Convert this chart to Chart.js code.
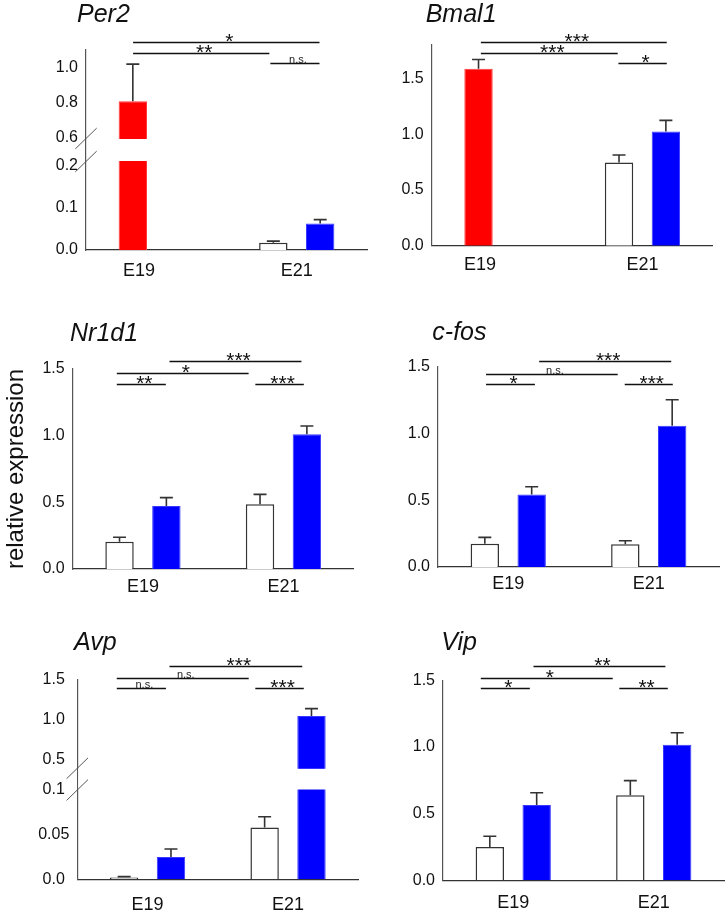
<!DOCTYPE html>
<html>
<head>
<meta charset="utf-8">
<script src="https://cdn.jsdelivr.net/npm/chart.js@4.4.1/dist/chart.umd.min.js"></script>
<style>
  html, body { margin: 0; padding: 0; background: #ffffff; }
  #wrap { position: relative; width: 727px; height: 913px; overflow: hidden; background: #fff; }
  #wrap canvas { position: absolute; left: 0; top: 0; }
</style>
</head>
<body>
<div id="wrap">
  <canvas id="c0" width="727" height="913"></canvas>
  <canvas id="c1" width="727" height="913"></canvas>
  <canvas id="c2" width="727" height="913"></canvas>
  <canvas id="c3" width="727" height="913"></canvas>
  <canvas id="c4" width="727" height="913"></canvas>
  <canvas id="c5" width="727" height="913"></canvas>
</div>
<script>
// ---------------- DATA ----------------
const groups = ['E19', 'E21'];

// Per2 (broken axis)
const per2Red = [0.807, null];
const per2RedSem = [0.212, null];
const per2White = [null, 0.017];
const per2WhiteSem = [null, 0.004];
const per2Blue = [null, 0.063];
const per2BlueSem = [null, 0.009];
const per2Ticks = [0, 0.1, 0.2, 0.6, 0.8, 1.0];
const per2Sig = ['*', '**', 'n.s.'];

// Bmal1
const bmal1Red = [1.586, null];
const bmal1RedSem = [0.084, null];
const bmal1White = [null, 0.746];
const bmal1WhiteSem = [null, 0.067];
const bmal1Blue = [null, 1.025];
const bmal1BlueSem = [null, 0.099];
const bmal1Ticks = [0, 0.5, 1.0, 1.5];
const bmal1Sig = ['***', '***', '*'];

// Nr1d1
const nr1d1White = [0.205, 0.485];
const nr1d1WhiteSem = [0.033, 0.075];
const nr1d1Blue = [0.4725, 1.01];
const nr1d1BlueSem = [0.0625, 0.063];
const nr1d1Sig = ['***', '*', '**', '***'];

// c-fos
const cfosWhite = [0.175, 0.17];
const cfosWhiteSem = [0.047, 0.027];
const cfosBlue = [0.542, 1.058];
const cfosBlueSem = [0.059, 0.195];
const cfosSig = ['***', 'n.s.', '*', '***'];

// Avp (broken axis)
const avpWhite = [0.002, 0.058];
const avpWhiteSem = [0.001, 0.012];
const avpBlue = [0.025, 1.045];
const avpBlueSem = [0.009, 0.094];
const avpTicks = [0, 0.05, 0.1, 0.5, 1.0, 1.5];
const avpSig = ['***', 'n.s.', 'n.s.', '***'];

// Vip
const vipWhite = [0.25, 0.6375];
const vipWhiteSem = [0.08, 0.11];
const vipBlue = [0.565, 1.017];
const vipBlueSem = [0.092, 0.09];
const vipSig = ['**', '*', '*', '**'];

const stdTicks = [0, 0.5, 1.0, 1.5];
const yAxisTitle = 'relative expression';

// ---------------- STYLE / LAYOUT ----------------
const FONT = "'Liberation Sans', Arial, Helvetica, sans-serif";
Chart.defaults.font.family = FONT;
Chart.defaults.color = '#111';

const RED = '#ff0000', BLUE = '#0000ff', WHITE = '#ffffff';

class BrokenScale extends Chart.LinearScale {
  static id = 'broken';
  _brk() {
    const b = this.options.brk;
    const H = this.bottom - this.top;
    const lowH = H * b.lowFrac, gapH = H * b.gapFrac, highH = H - lowH - gapH;
    return { b, lowH, gapH, highH };
  }
  getPixelForValue(v) {
    if (v === null || v === undefined || isNaN(v)) return NaN;
    const { b, lowH, gapH, highH } = this._brk();
    const y0 = this.bottom;
    if (v <= b.lowMax) return y0 - (v - this.min) / (b.lowMax - this.min) * lowH;
    if (v >= b.highMin) return y0 - lowH - gapH - (v - b.highMin) / (this.max - b.highMin) * highH;
    return y0 - lowH - (v - b.lowMax) / (b.highMin - b.lowMax) * gapH;
  }
  getValueForPixel(p) {
    const { b, lowH, gapH, highH } = this._brk();
    const d = this.bottom - p;
    if (d <= lowH) return this.min + d / lowH * (b.lowMax - this.min);
    if (d >= lowH + gapH) return b.highMin + (d - lowH - gapH) / highH * (this.max - b.highMin);
    return b.lowMax + (d - lowH) / gapH * (b.highMin - b.lowMax);
  }
  gapPixels() {
    const { lowH, gapH } = this._brk();
    return [this.bottom - lowH - gapH, this.bottom - lowH];
  }
}
Chart.register(BrokenScale);

function barDs(data, sem, color, stack) {
  const ds = {
    data: data, sem: sem,
    backgroundColor: color,
    borderColor: color === WHITE ? '#333' : (color === BLUE ? '#3a3aff' : '#ff3a3a'),
    borderWidth: color === WHITE ? 1.5 : 1,
    barPercentage: 0.606,
    categoryPercentage: 0.667
  };
  if (stack) ds.stack = stack;
  return ds;
}

const fmt1 = v => v.toFixed(1);
const fmtAvp = v => (Math.abs(v - 0.05) < 1e-9 ? '0.05' : v.toFixed(1));

const panels = [
  { id: 'c0', title: 'Per2', titlePos: [77, 22], plot: [86, 50, 367, 250],
    yType: 'broken', max: 1.1, brk: { lowMax: 0.21, highMin: 0.594, lowFrac: 0.4425, gapFrac: 0.115 },
    ticks: per2Ticks, fmt: fmt1,
    datasets: [barDs(per2Red, per2RedSem, RED, 'L'), barDs(per2White, per2WhiteSem, WHITE, 'L'), barDs(per2Blue, per2BlueSem, BLUE, 'R')],
    sig: per2Sig, sigGeom: [[-0.165, 1.162, 1.143], [-0.165, 0.805, 1.082], [0.812, 1.162, 1.026]],
    xLabelShift: [-0.122, 0], xLabelBase: 26 },
  { id: 'c1', title: 'Bmal1', titlePos: [425.7, 22], plot: [431.7, 45, 712.7, 245.7],
    yType: 'linear', max: 1.8, ticks: bmal1Ticks, fmt: fmt1,
    datasets: [barDs(bmal1Red, bmal1RedSem, RED, 'L'), barDs(bmal1White, bmal1WhiteSem, WHITE, 'L'), barDs(bmal1Blue, bmal1BlueSem, BLUE, 'R')],
    sig: bmal1Sig, sigGeom: [[-0.150, 1.173, 1.826], [-0.150, 0.824, 1.730], [0.829, 1.173, 1.643]],
    xLabelShift: [-0.157, 0], xLabelBase: 24 },
  { id: 'c2', title: 'Nr1d1', titlePos: [70, 341], plot: [72.7, 369, 353.7, 569],
    yType: 'linear', max: 1.5, ticks: stdTicks, fmt: fmt1, yTitle: true,
    datasets: [barDs(nr1d1White, nr1d1WhiteSem, WHITE), barDs(nr1d1Blue, nr1d1BlueSem, BLUE)],
    sig: nr1d1Sig, sigGeom: [[0.189, 1.128, 1.563], [-0.186, 0.752, 1.468], [-0.186, 0.163, 1.386], [0.800, 1.145, 1.386]],
    xPad: 7 },
  { id: 'c3', title: 'c-fos', titlePos: [432.3, 340], plot: [438, 366.7, 719, 567],
    yType: 'linear', max: 1.5, ticks: stdTicks, fmt: fmt1,
    datasets: [barDs(cfosWhite, cfosWhiteSem, WHITE), barDs(cfosBlue, cfosBlueSem, BLUE)],
    sig: cfosSig, sigGeom: [[0.220, 1.160, 1.545], [-0.158, 0.779, 1.448], [-0.158, 0.190, 1.369], [0.829, 1.171, 1.369]],
    xPad: 6 },
  { id: 'c4', title: 'Avp', titlePos: [74, 650], plot: [77.3, 680, 358.3, 879.3],
    yType: 'broken', max: 1.5, brk: { lowMax: 0.1, highMin: 0.386, lowFrac: 0.448, gapFrac: 0.109 },
    ticks: avpTicks, fmt: fmtAvp, crossAlign: 'center',
    datasets: [barDs(avpWhite, avpWhiteSem, WHITE), barDs(avpBlue, avpBlueSem, BLUE)],
    sig: avpSig, sigGeom: [[0.156, 1.101, 1.680], [-0.219, 0.720, 1.529], [-0.219, 0.131, 1.395], [0.767, 1.112, 1.395]],
    xPad: 15 },
  { id: 'c5', title: 'Vip', titlePos: [441.3, 650], plot: [443, 680.3, 724, 880.3],
    yType: 'linear', max: 1.5, ticks: stdTicks, fmt: fmt1,
    datasets: [barDs(vipWhite, vipWhiteSem, WHITE), barDs(vipBlue, vipBlueSem, BLUE)],
    sig: vipSig, sigGeom: [[0.144, 1.083, 1.61], [-0.231, 0.708, 1.52], [-0.231, 0.118, 1.44], [0.755, 1.100, 1.44]],
    xPad: 12 }
];

const W = 727, H = 913, XH = 40, YW = 60;

function decorPlugin(p) {
  return {
    id: 'decor_' + p.id,
    afterDatasetsDraw(chart) {
      const ctx = chart.ctx, ys = chart.scales.y, ca = chart.chartArea;
      ctx.save();
      // axis break
      if (p.yType === 'broken') {
        const [g0, g1] = ys.gapPixels();
        ctx.fillStyle = '#ffffff';
        ctx.fillRect(ca.left + 1, g0 + 0.5, ca.right - ca.left - 1, g1 - g0 - 1);
      }
      // error bars (upper)
      ctx.strokeStyle = '#333';
      ctx.lineWidth = 1.6;
      chart.data.datasets.forEach((ds, di) => {
        const meta = chart.getDatasetMeta(di);
        ds.data.forEach((v, i) => {
          if (v === null || ds.sem[i] === null) return;
          const el = meta.data[i];
          const x = el.x;
          const yb = ys.getPixelForValue(v);
          const yt = ys.getPixelForValue(v + ds.sem[i]);
          ctx.beginPath();
          ctx.moveTo(x, yb); ctx.lineTo(x, yt);
          ctx.moveTo(x - 6.5, yt); ctx.lineTo(x + 6.5, yt);
          ctx.stroke();
        });
      });
      // break slashes
      if (p.yType === 'broken') {
        const [g0, g1] = ys.gapPixels();
        ctx.strokeStyle = '#555';
        ctx.lineWidth = 1;
        [g0, g1].forEach(g => {
          ctx.beginPath();
          ctx.moveTo(ca.left - 10.7, g + 10.4);
          ctx.lineTo(ca.left + 10.7, g - 10.4);
          ctx.stroke();
        });
      }
      ctx.restore();
    },
    afterDraw(chart) {
      const ctx = chart.ctx, xs = chart.scales.x, ys = chart.scales.y, ca = chart.chartArea;
      ctx.save();
      // title
      ctx.fillStyle = '#111';
      ctx.font = 'italic 25px ' + FONT;
      ctx.textAlign = 'left';
      ctx.textBaseline = 'alphabetic';
      ctx.fillText(p.title, p.titlePos[0], p.titlePos[1]);
      // custom x labels (Per2, Bmal1)
      if (p.xLabelShift) {
        ctx.font = '18px ' + FONT;
        ctx.textAlign = 'center';
        groups.forEach((g, i) => {
          ctx.fillText(g, xs.getPixelForValue(i + p.xLabelShift[i]), ca.bottom + p.xLabelBase);
        });
      }
      // significance brackets
      p.sig.forEach((lab, k) => {
        const [a, b, lev] = p.sigGeom[k];
        const x0 = xs.getPixelForValue(a), x1 = xs.getPixelForValue(b);
        const y = Math.round(ys.getPixelForValue(lev)) + 0.5;
        ctx.strokeStyle = '#111';
        ctx.lineWidth = 1.6;
        ctx.beginPath(); ctx.moveTo(x0, y); ctx.lineTo(x1, y); ctx.stroke();
        ctx.textAlign = 'center';
        ctx.textBaseline = 'alphabetic';
        const cx = (x0 + x1) / 2 + 3;
        if (lab === 'n.s.') {
          ctx.font = '11px ' + FONT;
          ctx.fillStyle = '#222';
          ctx.fillText(lab, cx, y - 0.5);
        } else {
          ctx.font = '21px ' + FONT;
          ctx.fillStyle = '#111';
          ctx.fillText(lab, cx, y + 5);
        }
      });
      ctx.restore();
    }
  };
}

panels.forEach(p => {
  const [l, t, r, b] = p.plot;
  const yw = p.yTitle ? l : YW;
  const yOpts = {
    type: p.yType, min: 0, max: p.max, bounds: 'data',
    grid: { display: false, drawTicks: false },
    border: { display: true, color: '#555', width: 1.2 },
    ticks: {
      autoSkip: false, padding: 8, font: { size: 16 }, color: '#111',
      crossAlign: p.crossAlign || 'near',
      callback: (v) => p.fmt(v)
    },
    afterBuildTicks: (axis) => { axis.ticks = p.ticks.map(v => ({ value: v })); },
    afterFit: (axis) => { axis.width = yw; }
  };
  if (p.brk) yOpts.brk = p.brk;
  if (p.yTitle) {
    yOpts.title = { display: true, text: yAxisTitle, font: { size: 24 }, color: '#111', padding: { top: 2, bottom: 0 } };
  }
  new Chart(document.getElementById(p.id), {
    type: 'bar',
    data: { labels: groups, datasets: p.datasets },
    options: {
      responsive: false, animation: false, events: [],
      layout: { padding: { left: l - yw, top: t, right: W - r, bottom: H - b - XH } },
      plugins: { legend: { display: false }, tooltip: { enabled: false }, title: { display: false } },
      scales: {
        x: {
          type: 'category', offset: true,
          grid: { display: false, drawTicks: false },
          border: { display: true, color: '#333', width: 1.3 },
          ticks: { display: !p.xLabelShift, padding: p.xPad || 8, font: { size: 18 }, color: '#111' },
          afterFit: (axis) => { axis.height = XH; }
        },
        y: yOpts
      }
    },
    plugins: [decorPlugin(p)]
  });
});
</script>
</body>
</html>
